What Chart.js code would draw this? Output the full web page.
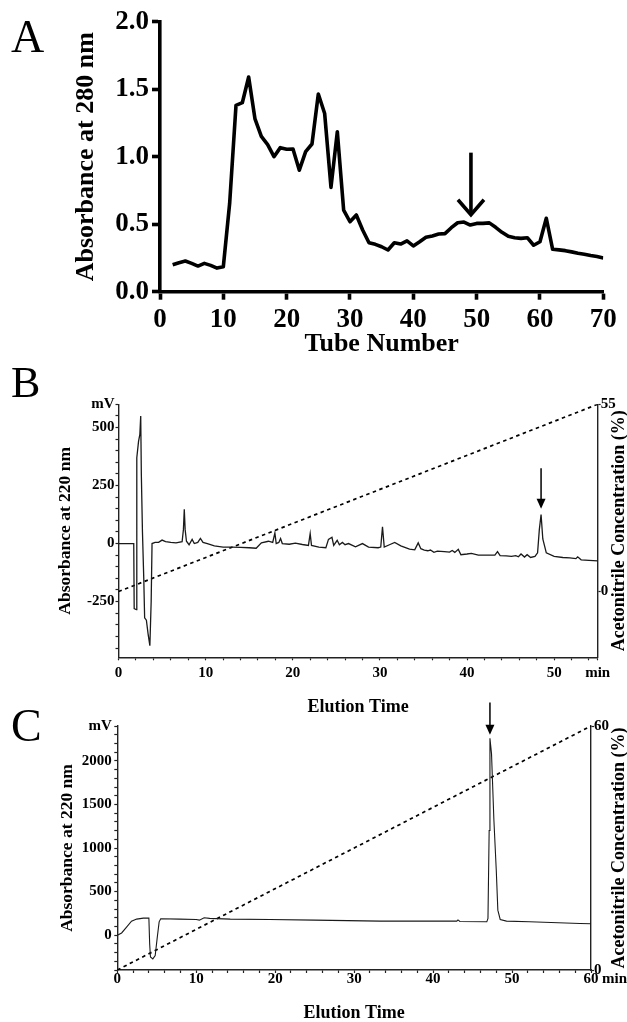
<!DOCTYPE html>
<html>
<head>
<meta charset="utf-8">
<script src="https://cdn.jsdelivr.net/npm/chart.js@4/dist/chart.umd.min.js"></script>
<style>
  html, body { margin: 0; padding: 0; background: #fff; }
  #page { position: relative; width: 627px; height: 1022px; overflow: hidden; }
  canvas { position: absolute; left: 0; }
</style>
</head>
<body>
<div id="page">
  <canvas id="chartA" width="627" height="365" style="top:0px"></canvas>
  <canvas id="chartB" width="627" height="355" style="top:365px"></canvas>
  <canvas id="chartC" width="627" height="327" style="top:695px"></canvas>
</div>
<script>
// ---- Panel A: gel filtration, absorbance at 280 nm per tube ----
const tubes = [2, 3, 4, 5, 6, 7, 8, 9, 10, 11, 12, 13, 14, 15, 16, 17, 18, 19, 20, 21,
  22, 23, 24, 25, 26, 27, 28, 29, 30, 31, 32, 33, 34, 35, 36, 37, 38, 39, 40, 41,
  42, 43, 44, 45, 46, 47, 48, 49, 50, 51, 52, 53, 54, 55, 56, 57, 58, 59, 60, 61,
  62, 63, 64, 65, 66, 67, 68, 69, 70];
const abs280 = [0.20, 0.215, 0.227, 0.21, 0.19, 0.21, 0.195, 0.175, 0.185, 0.655,
  1.38, 1.40, 1.59, 1.28, 1.15, 1.09, 1.00, 1.067, 1.055, 1.057,
  0.90, 1.037, 1.094, 1.464, 1.32, 0.773, 1.185, 0.605, 0.518, 0.568,
  0.457, 0.363, 0.351, 0.333, 0.309, 0.363, 0.353, 0.376, 0.339, 0.37,
  0.403, 0.413, 0.427, 0.43, 0.474, 0.511, 0.516, 0.494, 0.506, 0.506,
  0.51, 0.477, 0.44, 0.41, 0.40, 0.395, 0.40, 0.344, 0.37, 0.544,
  0.314, 0.31, 0.304, 0.295, 0.285, 0.278, 0.268, 0.26, 0.25];
const aXTicks = [0, 10, 20, 30, 40, 50, 60, 70];
const aYTicks = [0, 0.5, 1.0, 1.5, 2.0];
const arrowA = { x: 49.1, from: 1.03, to: 0.57 };

// ---- Panel B: RP-HPLC, absorbance at 220 nm (mV) ----
const bTime = [0, 1.75, 1.8, 2.05, 2.1, 2.3, 2.45, 2.55, 2.62, 2.75, 2.9, 3.0, 3.2, 3.4, 3.6, 3.75, 3.85,
  4.2, 4.6, 5.0, 5.4, 6.0, 6.6, 7.3, 7.45, 7.55, 7.65, 7.8, 8.1, 8.45, 8.7, 9.1, 9.4, 9.7,
  10.2, 11, 12, 13, 14, 15, 15.8, 16.4, 17.2, 17.7, 17.95, 18.1, 18.4, 18.6, 18.8, 19.6,
  20.3, 21.1, 21.8, 22.0, 22.15, 23.0, 23.8, 24.1, 24.5, 24.7, 25.1, 25.35, 25.7, 26.0, 26.4,
  27.2, 28.0, 28.7, 29.8, 30.1, 30.3, 30.5, 31.1, 31.7, 32.4, 33.4, 34.0, 34.4, 34.7, 35.1,
  35.5, 35.8, 36.2, 36.6, 37.4, 38.0, 38.3, 38.6, 39.0, 39.3, 40.0, 40.5, 41.3, 42.3, 43.2,
  43.5, 43.8, 44.5, 45.1, 45.6, 45.9, 46.2, 46.6, 46.9, 47.3, 47.8, 48.1, 48.3, 48.5, 48.7,
  49.1, 50.0, 51.0, 51.8, 52.5, 52.7, 53.1, 54.0, 55];
const bMV = [0, 0, -280, -285, 370, 440, 470, 550, 300, 50, -150, -320, -330, -390, -440, -250, 0,
  5, 5, 15, 8, 5, 3, 8, 60, 148, 60, 10, -5, 18, 0, 5, 22, 5,
  0, -10, -15, -15, -16, -18, -20, 3, 10, 5, 46, 0, 5, 22, 0, -3,
  2, -4, -8, 43, -8, -15, -18, 18, 27, -8, 14, -5, 5, -5, 0,
  -14, 0, -15, -18, -15, 72, -15, -5, 5, -10, -24, -27, 3, -22, -28,
  -31, -28, -38, -33, -35, -37, -30, -38, -25, -48, -45, -42, -50, -50, -50,
  -35, -52, -53, -55, -52, -57, -45, -58, -48, -60, -55, -40, 60, 125, 20,
  -40, -55, -60, -62, -65, -57, -70, -72, -75];
const bGradTime = [0, 55];
const bGradPct = [0, 55];
const bXLabels = { 0: '0', 10: '10', 20: '20', 30: '30', 40: '40', 50: '50', 55: 'min' };
const bYLabels = { '-250': '-250', 0: '0', 250: '250', 500: '500', 600: 'mV' };
const bY2Labels = { 0: '0', 55: '55' };
const arrowB = { x: 48.5, from: 325, to: 150 };

// ---- Panel C: re-chromatography of the arrowed fraction ----
const cTime = [0, 0.55, 1.2, 1.8, 2.45, 3.3, 4.0, 4.1, 4.2, 4.5, 4.8, 5.07, 5.3, 5.5, 7.9, 10.0, 10.4,
  11.0, 11.7, 14.3, 19.3, 25, 33.3, 43.0, 43.15, 43.4, 46.8, 46.95, 47.1, 47.2, 47.4, 47.7,
  48.0, 48.2, 48.5, 49.3, 52.2, 58.6, 60];
const cMV = [0, 25, 95, 160, 184, 195, 195, -100, -250, -272, -235, -20, 153, 188, 184, 180, 172,
  199, 192, 184, 180, 172, 161, 161, 175, 157, 153, 192, 1200, 2260, 2080, 1322,
  747, 287, 180, 161, 153, 134, 130];
const cGradTime = [0, 60];
const cGradPct = [0, 60];
const cXLabels = { 0: '0', 10: '10', 20: '20', 30: '30', 40: '40', 50: '50', 60: '60' };
const cYLabels = { 0: '0', 500: '500', 1000: '1000', 1500: '1500', 2000: '2000', 2400: 'mV' };
const cY2Labels = { 0: '0', 60: '60' };
const arrowC = { x: 47.2, from: 2670, to: 2300 };

const SERIF = "'Liberation Serif', 'Times New Roman', serif";

function steps(a, b, step) { // tick positions only
  const out = [];
  for (let v = a; v <= b + 1e-9; v += step) out.push(Math.round(v * 1000) / 1000);
  return out;
}
function pts(xs, ys) { return xs.map((x, i) => ({ x: x, y: ys[i] })); }
function setTicks(values) { return (s) => { s.ticks = values.map(v => ({ value: v })); }; }

// panel letters, arrows, right-hand titles and unit text
const decorPlugin = {
  id: 'decor',
  afterDraw(chart, args, o) {
    const ctx = chart.ctx;
    const xs = chart.scales.x, ys = chart.scales.y;
    ctx.save();
    ctx.fillStyle = '#000';
    ctx.font = o.letterSize + 'px ' + SERIF;
    ctx.textAlign = 'left';
    ctx.textBaseline = 'alphabetic';
    ctx.fillText(o.letter, 11, o.letterBase);

    if (o.arrow) {
      const ax = xs.getPixelForValue(o.arrow.x);
      const y0 = ys.getPixelForValue(o.arrow.from);
      const y1 = ys.getPixelForValue(o.arrow.to);
      ctx.strokeStyle = '#000';
      ctx.lineWidth = o.arrowWidth;
      ctx.lineCap = 'butt';
      if (o.openHead) {
        ctx.beginPath();
        ctx.moveTo(ax, y0); ctx.lineTo(ax, y1 - 2);
        ctx.stroke();
        ctx.lineJoin = 'miter';
        ctx.beginPath();
        ctx.moveTo(ax - o.headW, y1 - o.headH);
        ctx.lineTo(ax, y1);
        ctx.lineTo(ax + o.headW, y1 - o.headH);
        ctx.stroke();
      } else {
        ctx.beginPath();
        ctx.moveTo(ax, y0); ctx.lineTo(ax, y1 - o.headH + 1);
        ctx.stroke();
        ctx.beginPath();
        ctx.moveTo(ax - o.headW, y1 - o.headH);
        ctx.lineTo(ax + o.headW, y1 - o.headH);
        ctx.lineTo(ax, y1);
        ctx.closePath();
        ctx.fill();
      }
    }

    if (o.rightTitle) {
      const s = chart.scales.y2;
      ctx.save();
      ctx.translate(o.rightTitleX, (s.top + s.bottom) / 2);
      ctx.rotate(-Math.PI / 2);
      ctx.font = 'bold 18px ' + SERIF;
      ctx.textAlign = 'center';
      ctx.textBaseline = 'middle';
      ctx.fillText(o.rightTitle, 0, 0);
      ctx.restore();
    }

    if (o.unit) {
      ctx.font = 'bold 15px ' + SERIF;
      ctx.textAlign = 'left';
      ctx.textBaseline = 'middle';
      ctx.fillText(o.unit, xs.right + 11, xs.top + 9);
    }
    ctx.restore();
  }
};

const baseOpts = {
  responsive: false,
  animation: false,
  events: [],
};

// ---------- A ----------
new Chart(document.getElementById('chartA'), {
  type: 'line',
  data: {
    datasets: [{
      data: pts(tubes, abs280),
      borderColor: '#000',
      borderWidth: 3.6,
      pointRadius: 0,
      tension: 0,
      fill: false,
      borderJoinStyle: 'round'
    }]
  },
  options: Object.assign({}, baseOpts, {
    layout: { padding: { top: 21.7, right: 23.7, bottom: 0, left: 0 } },
    plugins: {
      legend: { display: false }, tooltip: { enabled: false },
      decor: { letter: 'A', letterSize: 46, letterBase: 52, arrow: arrowA, arrowWidth: 3.6, openHead: true, headW: 13, headH: 15 }
    },
    scales: {
      x: {
        type: 'linear', min: 0, max: 70,
        afterBuildTicks: setTicks(aXTicks),
        afterFit: (s) => { s.height = 73.3; },
        grid: { drawOnChartArea: false, tickLength: 8, tickWidth: 3.6, tickColor: '#000', color: '#000' },
        border: { color: '#000', width: 3.6 },
        ticks: { color: '#000', font: { family: SERIF, size: 27, weight: 'bold', lineHeight: 1 }, padding: 7, maxRotation: 0, autoSkip: false },
        title: { display: true, text: 'Tube Number', color: '#000', font: { family: SERIF, size: 26, weight: 'bold', lineHeight: 1 }, padding: { top: 0, bottom: 8 } }
      },
      y: {
        type: 'linear', min: 0, max: 2,
        afterBuildTicks: setTicks(aYTicks),
        afterFit: (s) => { s.width = 160; },
        grid: { drawOnChartArea: false, tickLength: 8, tickWidth: 3.6, tickColor: '#000', color: '#000' },
        border: { color: '#000', width: 3.6 },
        ticks: { color: '#000', font: { family: SERIF, size: 27, weight: 'bold', lineHeight: 1 }, padding: 3, autoSkip: false, callback: (v) => Number(v).toFixed(1) },
        title: { display: true, text: 'Absorbance at 280 nm', color: '#000', font: { family: SERIF, size: 26, weight: 'bold', lineHeight: 1 }, padding: { top: 73, bottom: 0 } }
      }
    }
  }),
  plugins: [decorPlugin]
});

// thin-axis chromatogram panels (B and C)
function hplcChart(id, cfg) {
  const tickFont = { family: SERIF, size: 15, weight: 'bold', lineHeight: 1 };
  const gridTick = { drawOnChartArea: false, tickLength: 3, tickWidth: 1.2, tickColor: '#222', color: '#222' };
  const border = { color: '#222', width: 1.4 };
  return new Chart(document.getElementById(id), {
    type: 'line',
    data: {
      datasets: [{
        data: pts(cfg.time, cfg.mv),
        yAxisID: 'y',
        borderColor: '#1a1a1a',
        borderWidth: cfg.traceWidth,
        pointRadius: 0, tension: 0, fill: false
      }, {
        data: pts(cfg.gradTime, cfg.gradPct),
        yAxisID: 'y2',
        borderColor: '#000',
        borderWidth: 1.7,
        borderDash: [3.5, 3.5],
        pointRadius: 0, tension: 0, fill: false
      }]
    },
    options: Object.assign({}, baseOpts, {
      layout: { padding: { top: cfg.padTop, right: 0, bottom: 0, left: 0 } },
      plugins: {
        legend: { display: false }, tooltip: { enabled: false },
        decor: cfg.decor
      },
      scales: {
        x: {
          type: 'linear', min: cfg.xMin, max: cfg.xMax,
          afterBuildTicks: setTicks(cfg.xTicks),
          afterFit: (s) => { s.height = cfg.xHeight; },
          grid: gridTick, border: border,
          ticks: { color: '#000', font: tickFont, padding: cfg.xPad, maxRotation: 0, autoSkip: false, callback: (v) => cfg.xLabels[v] ?? '' },
          title: { display: true, text: 'Elution Time', color: '#000', font: { family: SERIF, size: 18, weight: 'bold', lineHeight: 1 }, padding: { top: 0, bottom: cfg.xTitlePad } }
        },
        y: {
          type: 'linear', position: 'left', min: cfg.yMin, max: cfg.yMax,
          afterBuildTicks: setTicks(cfg.yTicks),
          afterFit: (s) => { s.width = cfg.yWidth; },
          grid: gridTick, border: border,
          ticks: { color: '#000', font: tickFont, padding: cfg.yPad, autoSkip: false, callback: (v) => cfg.yLabels[v] ?? '' },
          title: { display: true, text: 'Absorbance at 220 nm', color: '#000', font: { family: SERIF, size: 17.5, weight: 'bold', lineHeight: 1 }, padding: { top: cfg.yTitlePad, bottom: 0 } }
        },
        y2: {
          type: 'linear', position: 'right', min: cfg.y2Min, max: cfg.y2Max,
          afterBuildTicks: setTicks(cfg.y2Ticks),
          afterFit: (s) => { s.width = cfg.y2Width; },
          grid: gridTick, border: border,
          ticks: { color: '#000', font: tickFont, padding: 0, autoSkip: false, callback: (v) => cfg.y2Labels[v] ?? '' }
        }
      }
    }),
    plugins: [decorPlugin]
  });
}

// ---------- B ----------
hplcChart('chartB', {
  time: bTime, mv: bMV, gradTime: bGradTime, gradPct: bGradPct, traceWidth: 1.3,
  padTop: 39.3,
  xMin: 0, xMax: 55, xTicks: steps(0, 54, 2).concat([55]), xLabels: bXLabels, xHeight: 62.7, xPad: 5, xTitlePad: 4,
  yMin: -490, yMax: 600, yTicks: steps(-450, 600, 50), yLabels: bYLabels, yWidth: 118.5, yPad: 1, yTitlePad: 56.5,
  y2Min: -19.3, y2Max: 55, y2Ticks: [0, 55], y2Labels: bY2Labels, y2Width: 29.3,
  decor: { letter: 'B', letterSize: 44, letterBase: 32, arrow: arrowB, arrowWidth: 1.5, openHead: false, headW: 4.5, headH: 10,
    rightTitle: 'Acetonitrile Concentration (%)', rightTitleX: 619 }
});

// ---------- C ----------
hplcChart('chartC', {
  time: cTime, mv: cMV, gradTime: cGradTime, gradPct: cGradPct, traceWidth: 1.1,
  padTop: 31,
  xMin: 0, xMax: 60, xTicks: steps(0, 60, 2), xLabels: cXLabels, xHeight: 52, xPad: -1, xTitlePad: 0,
  yMin: -400, yMax: 2400, yTicks: steps(-400, 2400, 100), yLabels: cYLabels, yWidth: 117.3, yPad: 2.5, yTitlePad: 59,
  y2Min: 0, y2Max: 60, y2Ticks: [0, 60], y2Labels: cY2Labels, y2Width: 36,
  decor: { letter: 'C', letterSize: 46, letterBase: 46, arrow: arrowC, arrowWidth: 1.5, openHead: false, headW: 4.5, headH: 10,
    rightTitle: 'Acetonitrile Concentration (%)', rightTitleX: 619, unit: 'min' }
});
</script>
</body>
</html>
